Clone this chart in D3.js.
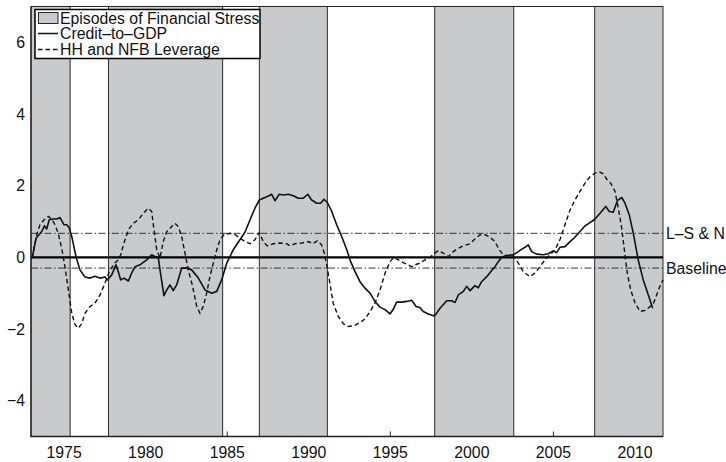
<!DOCTYPE html>
<html>
<head>
<meta charset="utf-8">
<script src="https://cdn.jsdelivr.net/npm/d3@7"></script>
<style>
  html, body { margin: 0; padding: 0; background: #fff; }
  svg { display: block; font-family: "Liberation Sans", Arial, Helvetica, sans-serif; }
</style>
</head>
<body>
<svg id="chart" width="726" height="462"></svg>
<script>
// Episodes of financial stress (start / end, in years)
const episodeStart = [1973.0, 1977.75, 1987.0, 1997.75, 2007.56];
const episodeEnd   = [1975.4, 1984.75, 1991.17, 2002.6, 2011.75];

// Credit-to-GDP gap (standardised)
const creditYears = [1973.08,1973.31,1973.66,1973.82,1973.96,1974.12,1974.37,1974.58,1974.78,1975.02,1975.19,1975.33,1975.5,1975.76,1976.0,1976.31,1976.62,1976.92,1977.23,1977.54,1977.68,1977.95,1978.21,1978.35,1978.5,1978.7,1978.97,1979.17,1979.38,1979.68,1980.09,1980.4,1980.6,1980.8,1980.91,1981.15,1981.32,1981.52,1981.72,1981.93,1982.24,1982.55,1982.85,1983.26,1983.67,1984.08,1984.39,1984.69,1985.0,1985.4,1985.81,1986.12,1986.43,1986.73,1987.0,1987.24,1987.49,1987.76,1987.96,1988.22,1988.47,1988.78,1989.08,1989.39,1989.7,1989.97,1990.21,1990.52,1990.76,1990.96,1991.17,1991.44,1991.74,1992.05,1992.36,1992.6,1992.87,1993.17,1993.48,1993.79,1994.09,1994.4,1994.71,1995.01,1995.21,1995.42,1995.73,1996.04,1996.34,1996.61,1996.85,1997.05,1997.36,1997.67,1997.77,1998.08,1998.49,1998.79,1999.0,1999.2,1999.51,1999.71,1999.92,2000.22,2000.42,2000.63,2000.94,2001.25,2001.45,2001.65,2001.86,2002.17,2002.57,2002.88,2003.09,2003.29,2003.49,2003.7,2004.01,2004.41,2004.72,2005.02,2005.23,2005.43,2005.74,2006.05,2006.35,2006.66,2006.97,2007.38,2007.58,2007.89,2008.24,2008.46,2008.7,2008.95,2009.22,2009.42,2009.68,2009.93,2010.23,2010.54,2010.85,2011.12];
const creditValues = [0.0,0.53,0.72,0.88,0.79,1.05,1.07,1.07,1.11,0.91,0.91,0.84,0.58,0.02,-0.35,-0.55,-0.58,-0.53,-0.58,-0.55,-0.63,-0.49,-0.21,-0.4,-0.63,-0.58,-0.66,-0.44,-0.26,-0.21,-0.07,0.07,0.02,0.0,-0.35,-1.07,-0.91,-0.77,-0.93,-0.77,-0.3,-0.3,-0.35,-0.58,-0.91,-1.0,-0.95,-0.63,-0.16,0.21,0.49,0.7,1.05,1.37,1.6,1.65,1.7,1.76,1.58,1.76,1.74,1.76,1.72,1.65,1.65,1.76,1.6,1.51,1.51,1.62,1.53,1.28,0.91,0.58,0.21,-0.12,-0.4,-0.68,-0.86,-1.0,-1.23,-1.39,-1.46,-1.58,-1.45,-1.25,-1.25,-1.23,-1.2,-1.37,-1.4,-1.51,-1.58,-1.63,-1.62,-1.42,-1.21,-1.21,-1.26,-1.05,-0.95,-0.81,-0.93,-0.79,-0.85,-0.68,-0.54,-0.37,-0.26,-0.12,0.0,0.05,0.07,0.16,0.23,0.28,0.35,0.16,0.09,0.07,0.1,0.18,0.13,0.28,0.3,0.44,0.56,0.72,0.88,1.0,1.07,1.23,1.42,1.28,1.26,1.58,1.67,1.51,1.19,0.67,-0.07,-0.63,-1.05,-1.42];

// Household and non-financial business leverage (standardised)
const leverageYears = [1973.08,1973.2,1973.35,1973.55,1973.8,1974.06,1974.27,1974.47,1974.67,1974.88,1975.08,1975.29,1975.5,1975.7,1975.9,1976.11,1976.31,1976.62,1976.92,1977.23,1977.54,1977.84,1978.15,1978.35,1978.5,1978.7,1978.97,1979.27,1979.58,1979.89,1980.19,1980.4,1980.54,1980.71,1980.91,1981.11,1981.32,1981.63,1981.83,1982.03,1982.24,1982.44,1982.64,1982.91,1983.16,1983.36,1983.56,1983.77,1983.97,1984.18,1984.39,1984.59,1984.83,1985.2,1985.51,1985.81,1986.12,1986.43,1986.73,1987.0,1987.24,1987.49,1987.86,1988.27,1988.68,1988.88,1989.19,1989.6,1990.0,1990.27,1990.55,1990.82,1990.98,1991.13,1991.29,1991.53,1991.84,1992.15,1992.45,1992.8,1993.17,1993.48,1993.79,1994.09,1994.4,1994.71,1995.01,1995.26,1995.52,1995.83,1996.13,1996.34,1996.54,1996.85,1997.16,1997.46,1997.71,1997.97,1998.28,1998.59,1998.79,1999.1,1999.51,1999.92,2000.22,2000.53,2000.84,2001.14,2001.45,2001.71,2001.96,2002.26,2002.57,2002.88,2003.18,2003.59,2003.9,2004.21,2004.51,2004.82,2005.13,2005.43,2005.74,2006.05,2006.35,2006.66,2006.97,2007.27,2007.58,2007.84,2008.09,2008.3,2008.54,2008.81,2009.01,2009.22,2009.38,2009.56,2009.77,2010.04,2010.35,2010.66,2010.97,2011.17,2011.36,2011.56,2011.75];
const leverageValues = [-0.02,0.3,0.63,0.91,1.05,1.14,1.07,0.91,0.67,0.26,-0.26,-0.91,-1.56,-1.88,-1.98,-1.85,-1.56,-1.37,-1.28,-1.05,-0.72,-0.35,-0.16,-0.07,0.07,0.4,0.77,0.95,1.05,1.23,1.37,1.28,0.77,0.21,-0.02,0.44,0.72,0.86,0.95,0.86,0.58,0.12,-0.35,-0.81,-1.37,-1.56,-1.37,-1.0,-0.54,-0.16,0.21,0.49,0.63,0.67,0.63,0.54,0.44,0.38,0.49,0.69,0.44,0.32,0.38,0.4,0.38,0.32,0.38,0.4,0.44,0.38,0.46,0.35,0.12,-0.21,-0.63,-1.28,-1.65,-1.85,-1.93,-1.91,-1.82,-1.72,-1.51,-1.28,-0.91,-0.44,-0.12,0.0,-0.07,-0.15,-0.21,-0.26,-0.21,-0.16,-0.07,0.0,0.1,0.19,0.12,0.02,0.12,0.23,0.32,0.38,0.51,0.63,0.63,0.56,0.44,0.21,0.07,0.04,0.04,-0.16,-0.4,-0.54,-0.44,-0.26,-0.07,0.07,0.21,0.49,0.91,1.32,1.6,1.84,2.07,2.25,2.35,2.39,2.33,2.18,2.07,1.84,1.37,0.81,0.21,-0.44,-0.91,-1.28,-1.51,-1.48,-1.37,-1.28,-1.05,-0.81,-0.63];

// Thresholds drawn as dash-dot reference lines
const thresholdNames  = ["L\u2013S & N", "Baseline"];
const thresholdValues = [0.67, -0.3];

// Axis ticks
const xTicks = [1975, 1980, 1985, 1990, 1995, 2000, 2005, 2010];
const yTicks = [-4, -2, 0, 2, 4, 6];

// Legend entries
const legendLabels = ["Episodes of Financial Stress", "Credit\u2013to\u2013GDP", "HH and NFB Leverage"];

const svg = d3.select("#chart");
const plotLeft = 31, plotRight = 663, plotTop = 6.5, plotBottom = 436.5;

const x = d3.scaleLinear().domain([1973, 2011.75]).range([plotLeft, plotRight]);
const y = d3.scaleLinear().domain([-5, 7]).range([plotBottom, plotTop]);

const fontSize = 15.8;

// Inward tick marks on the bottom axis (behind the shading)
svg.append("g")
  .attr("transform", `translate(0,${plotBottom})`)
  .call(d3.axisBottom(x).tickValues(xTicks).tickSize(-5).tickFormat(""))
  .call(g => g.select(".domain").remove())
  .call(g => g.selectAll("line").attr("stroke", "#222").attr("stroke-width", 1));

// Stress episodes
const episodes = episodeStart.map((s, i) => ({ s, e: episodeEnd[i] }));
svg.append("g").selectAll("rect")
  .data(episodes)
  .join("rect")
  .attr("x", d => x(d.s))
  .attr("y", plotTop)
  .attr("width", d => x(d.e) - x(d.s))
  .attr("height", plotBottom - plotTop)
  .attr("fill", "#c9cacc")
  .attr("stroke", "#2a2a2a")
  .attr("stroke-width", 1);

// Zero line
svg.append("line")
  .attr("x1", plotLeft).attr("x2", plotRight)
  .attr("y1", y(0)).attr("y2", y(0))
  .attr("stroke", "#000").attr("stroke-width", 2.2);

// Threshold lines and their labels
thresholdValues.forEach((v, i) => {
  svg.append("line")
    .attr("x1", plotLeft).attr("x2", plotRight)
    .attr("y1", y(v)).attr("y2", y(v))
    .attr("stroke", "#222").attr("stroke-width", 0.9)
    .attr("stroke-dasharray", "7,2.5,1.5,2.5");
  svg.append("text")
    .attr("x", 666)
    .attr("y", y(v))
    .attr("dy", "0.35em")
    .attr("font-size", fontSize)
    .attr("fill", "#111")
    .text(thresholdNames[i]);
});

// Series
const line = d3.line().x(d => x(d[0])).y(d => y(d[1]));
const creditPts = creditYears.map((t, i) => [t, creditValues[i]]);
const leveragePts = leverageYears.map((t, i) => [t, leverageValues[i]]);

svg.append("path")
  .datum(leveragePts)
  .attr("d", line)
  .attr("fill", "none")
  .attr("stroke", "#111")
  .attr("stroke-width", 1.4)
  .attr("stroke-dasharray", "4.5,3");

svg.append("path")
  .datum(creditPts)
  .attr("d", line)
  .attr("fill", "none")
  .attr("stroke", "#111")
  .attr("stroke-width", 1.6)
  .attr("stroke-linejoin", "round");

// Axes frame
svg.append("path")
  .attr("d", `M${plotLeft},${plotTop}V${plotBottom}H${plotRight}`)
  .attr("fill", "none")
  .attr("stroke", "#222")
  .attr("stroke-width", 1.3);
svg.append("line")
  .attr("x1", plotLeft).attr("x2", plotRight)
  .attr("y1", plotTop).attr("y2", plotTop)
  .attr("stroke", "#222").attr("stroke-width", 1);

// Tick labels
svg.append("g")
  .attr("transform", `translate(0,${plotBottom})`)
  .call(d3.axisBottom(x).tickValues(xTicks).tickSize(0).tickPadding(10).tickFormat(d3.format("d")))
  .call(g => g.select(".domain").remove())
  .call(g => g.selectAll("text").attr("font-size", fontSize).attr("font-family", null).attr("fill", "#111"));

svg.append("g")
  .attr("transform", `translate(${plotLeft},0)`)
  .call(d3.axisLeft(y).tickValues(yTicks).tickSize(0).tickPadding(6)
    .tickFormat(d => d < 0 ? "\u2212" + Math.abs(d) : String(d)))
  .call(g => g.select(".domain").remove())
  .call(g => g.selectAll("text").attr("font-size", fontSize).attr("font-family", null).attr("fill", "#111"));

// Legend
const lg = svg.append("g");
lg.append("rect")
  .attr("x", 35).attr("y", 9.5).attr("width", 225).attr("height", 49)
  .attr("fill", "#fff").attr("stroke", "#000").attr("stroke-width", 1.5);
const rowY = [18, 33.5, 49.5];
lg.append("rect")
  .attr("x", 38.5).attr("y", 12.5).attr("width", 19.5).attr("height", 11)
  .attr("fill", "#c9cacc").attr("stroke", "#2a2a2a").attr("stroke-width", 1);
lg.append("line")
  .attr("x1", 38).attr("x2", 58).attr("y1", rowY[1]).attr("y2", rowY[1])
  .attr("stroke", "#111").attr("stroke-width", 1.5);
lg.append("line")
  .attr("x1", 38).attr("x2", 58).attr("y1", rowY[2]).attr("y2", rowY[2])
  .attr("stroke", "#111").attr("stroke-width", 1.4).attr("stroke-dasharray", "4.5,3");
lg.selectAll("text.lab")
  .data(legendLabels)
  .join("text")
  .attr("class", "lab")
  .attr("x", 60)
  .attr("y", (d, i) => rowY[i])
  .attr("dy", "0.36em")
  .attr("font-size", fontSize)
  .attr("fill", "#111")
  .text(d => d);
</script>
</body>
</html>
